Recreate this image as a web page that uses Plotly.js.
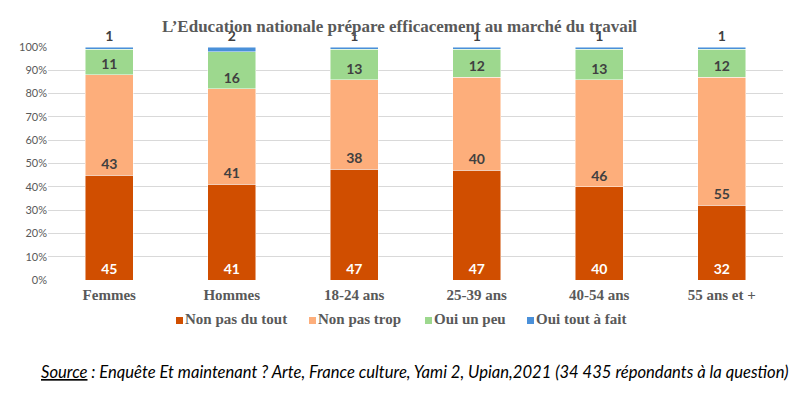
<!DOCTYPE html>
<html>
<head>
<meta charset="utf-8">
<script src="https://cdn.plot.ly/plotly-3.0.1.min.js"></script>
<style>html,body{margin:0;padding:0;background:#fff;}#chart{width:799px;height:394px;}</style>
</head>
<body>
<div id="chart"></div>
<script>
const categories = ["Femmes", "Hommes", "18-24 ans", "25-39 ans", "40-54 ans", "55 ans et +"];
const nonPasDuTout = [45, 41, 47, 47, 40, 32];
const nonPasTrop = [43, 41, 38, 40, 46, 55];
const ouiUnPeu = [11, 16, 13, 12, 13, 12];
const ouiToutAFait = [1, 2, 1, 1, 1, 1];
const seriesNames = ["Non pas du tout", "Non pas trop", "Oui un peu", "Oui tout à fait"];
const yTickVals = [0,10,20,30,40,50,60,70,80,90,100];
const yTickText = ["0%","10%","20%","30%","40%","50%","60%","70%","80%","90%","100%"];

const colors = ["#D04E00", "#FDAE7B", "#9DD88E", "#4A90D9"];
const labelFont = {family: "Lato, 'Open Sans', sans-serif", size: 14, color: "#404040", weight: 700};
const series = [nonPasDuTout, nonPasTrop, ouiUnPeu, ouiToutAFait];

const traces = series.map((vals, i) => ({
  type: "bar",
  name: seriesNames[i],
  x: categories,
  y: vals,
  text: vals.map(String),
  texttemplate: "<b>%{text}</b>",
  textposition: i === 3 ? "outside" : "inside",
  insidetextanchor: "start",
  textangle: 0,
  constraintext: "none",
  cliponaxis: false,
  textfont: Object.assign({}, labelFont, {color: i === 0 ? "#FFFFFF" : "#404040"}),
  outsidetextfont: Object.assign({}, labelFont),
  marker: {color: colors[i], line: {color: "rgba(255,255,255,0.6)", width: 0.8}},
  showlegend: false,
  hoverinfo: "skip"
}));

// compact Excel-style legend: small colour squares + bold serif labels
const legendPx = [176, 309, 425, 527];
const plotLeft = 48, plotWidth = 735, plotBottom = 280, plotHeight = 233;
const px2x = p => (p - plotLeft) / plotWidth;
const px2y = p => (plotBottom - p) / plotHeight;
const serifFont = "Liberation Serif";
const legendAnnotations = seriesNames.map((n, i) => ({
  text: n,
  xref: "paper", yref: "paper",
  x: px2x(legendPx[i] + 9), xanchor: "left", xshift: -2,
  y: px2y(319), yanchor: "middle",
  showarrow: false,
  font: {family: serifFont, size: 15, color: "#595959", weight: 700}
}));
const legendShapes = seriesNames.map((n, i) => ({
  type: "rect", xref: "paper", yref: "paper",
  x0: px2x(legendPx[i]), x1: px2x(legendPx[i] + 7),
  y0: px2y(324), y1: px2y(317),
  fillcolor: colors[i], line: {width: 0}
}));

const layout = {
  width: 799, height: 394,
  margin: {l: 48, r: 16, t: 47, b: 114},
  paper_bgcolor: "#fff", plot_bgcolor: "#fff",
  barmode: "stack",
  barnorm: "percent",
  bargap: 0.61,
  showlegend: false,
  title: {
    text: "L’Education nationale prépare efficacement au marché du travail",
    font: {family: serifFont, size: 17, color: "#595959", weight: 700},
    x: 0.5, xanchor: "center", xref: "container",
    y: 0.935, yanchor: "middle", yref: "container"
  },
  xaxis: {
    tickfont: {family: serifFont, size: 15, color: "#595959", weight: 700},
    showgrid: false, zeroline: false, showline: false, ticks: "",
    ticklabelstandoff: 4,
    fixedrange: true
  },
  yaxis: {
    range: [0, 100],
    tickvals: yTickVals, ticktext: yTickText,
    tickfont: {family: "Lato", size: 11, color: "#595959"},
    gridcolor: "#D9D9D9", gridwidth: 1,
    zeroline: false, showline: false, ticks: "",
    fixedrange: true
  },
  shapes: legendShapes,
  annotations: legendAnnotations.concat([{
    text: "<i><u>Source</u> : Enquête Et maintenant ? Arte, France culture, Yami 2, Upian,2021 (34 435 répondants à la question)</i>",
    xref: "paper", yref: "paper",
    x: px2x(42), xanchor: "left", xshift: -3,
    y: px2y(372), yanchor: "middle",
    showarrow: false,
    font: {family: "Lato", size: 16.6, color: "#000000"}
  }])
};

Plotly.newPlot("chart", traces, layout, {displayModeBar: false, staticPlot: true});
</script>
</body>
</html>
